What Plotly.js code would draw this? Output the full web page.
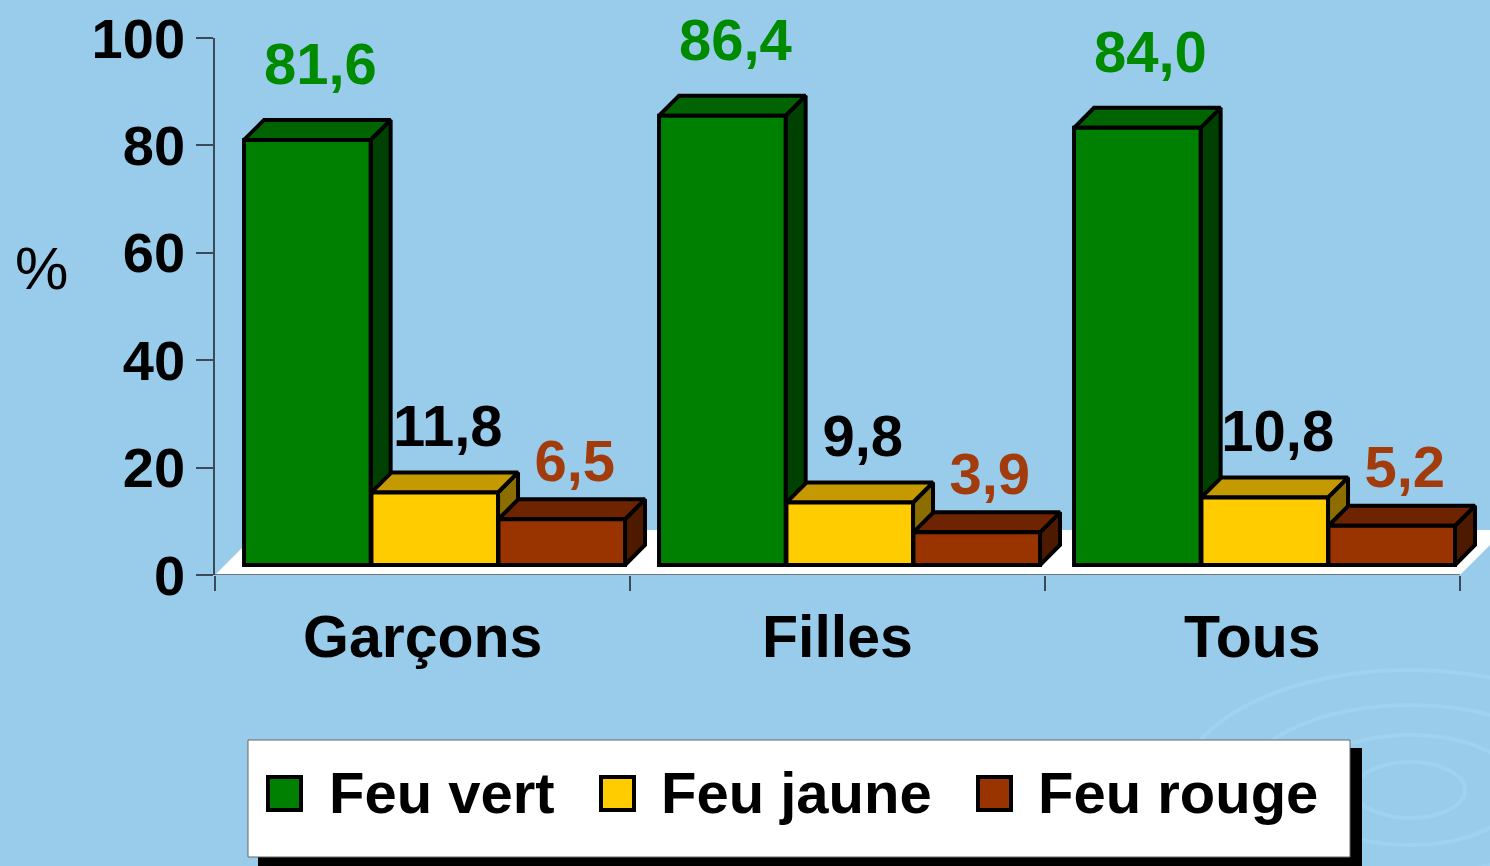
<!DOCTYPE html>
<html>
<head>
<meta charset="utf-8">
<script src="https://cdn.plot.ly/plotly-3.0.1.min.js"></script>
<style>
  html, body { margin: 0; padding: 0; background: #99CCEB; }
  #chart { width: 1490px; height: 866px; }
</style>
</head>
<body>
<div id="chart"></div>
<script>
// ---------------- data ----------------
const categories = ['Garçons', 'Filles', 'Tous'];
const seriesNames = ['Feu vert', 'Feu jaune', 'Feu rouge'];
const feuVert  = [81.6, 86.4, 84.0];
const feuJaune = [11.8, 9.8, 10.8];
const feuRouge = [6.5, 3.9, 5.2];
const yTickValues = [0, 20, 40, 60, 80, 100];
const yAxisTitle = '%';

// ---------------- styles / geometry ----------------
const FONT = '"Liberation Sans", Arial, Helvetica, sans-serif';
const BG = '#99CCEB';
const frontColors = ['#008000', '#FFCC00', '#993300'];
const topColors   = ['#006400', '#C49A00', '#6E2400'];
const sideColors  = ['#004000', '#8C6E00', '#4D1A00'];
const labelColors = ['#008A00', '#000000', '#A33C0C'];
const labelGapPx  = [21, 12, 4];

const W = 1490, H = 866;
const PL = 215, PR = 1490, PT = 38, PB = 575;      // plot area in pixels
const xPxPerUnit = 415;                               // one category = 415 px
const xRange = [0, (PR - PL) / xPxPerUnit];
// perspective scale used by the 3D bars (hidden axis)
const barPxPerUnit = 5.05, barZeroPx = 552;
const barRange = [-(PB - barZeroPx) / barPxPerUnit, (barZeroPx - PT) / barPxPerUnit];
const barBase = -(565 - barZeroPx) / barPxPerUnit;   // bars stand on the floor
const barWidth = 0.305;
const barOffsets = [0.07, 0.377, 0.683];
const depthPx = 20;
const dX = depthPx / xPxPerUnit, dY = depthPx / barPxPerUnit;

const px = x => (x - PL) / (PR - PL);
const py = y => (PB - y) / (PB - PT);

const seriesValues = [feuVert, feuJaune, feuRouge];
const fmt = v => v.toFixed(1).replace('.', ',');

const polyTraces = [];
const barTraces = [];
const labelTraces = [];

seriesValues.forEach((vals, s) => {
  const topX = [], topY = [], sideX = [], sideY = [];
  vals.forEach((v, i) => {
    const x0 = i + barOffsets[s], x1 = x0 + barWidth;
    topX.push(x0, x1, x1 + dX, x0 + dX, x0, null);
    topY.push(v, v, v + dY, v + dY, v, null);
    sideX.push(x1, x1, x1 + dX, x1 + dX, x1, null);
    sideY.push(barBase, v, v + dY, barBase + dY, barBase, null);
  });
  polyTraces.push({
    type: 'scatter', mode: 'lines', x: sideX, y: sideY, xaxis: 'x', yaxis: 'y2',
    fill: 'toself', fillcolor: sideColors[s], line: {color: '#000', width: 4},
    hoverinfo: 'skip', showlegend: false
  });
  polyTraces.push({
    type: 'scatter', mode: 'lines', x: topX, y: topY, xaxis: 'x', yaxis: 'y2',
    fill: 'toself', fillcolor: topColors[s], line: {color: '#000', width: 4},
    hoverinfo: 'skip', showlegend: false
  });
  barTraces.push({
    type: 'bar', name: seriesNames[s],
    x: categories.map((c, i) => i),
    y: vals.map(v => v - barBase),
    base: barBase,
    width: barWidth, offset: barOffsets[s],
    xaxis: 'x', yaxis: 'y3',
    marker: {color: frontColors[s], line: {color: '#000', width: 4}},
    hovertext: vals.map((v, i) => categories[i] + ' – ' + seriesNames[s] + ': ' + fmt(v)),
    hoverinfo: 'text', showlegend: false
  });
  labelTraces.push({
    type: 'scatter', mode: 'text',
    x: vals.map((v, i) => i + barOffsets[s] + barWidth / 2 + dX / 2 + 3 / xPxPerUnit),
    y: vals.map(v => v + dY + labelGapPx[s] / barPxPerUnit),
    text: vals.map(fmt),
    textposition: 'top center',
    textfont: {family: FONT, size: 58, color: labelColors[s], weight: 'bold'},
    xaxis: 'x', yaxis: 'y3', cliponaxis: false,
    hoverinfo: 'skip', showlegend: false
  });
});

// dummy trace so the main (visible) y axis owns a subplot
const anchorTrace = {type: 'scatter', mode: 'markers', x: [null], y: [null], xaxis: 'x', yaxis: 'y',
  hoverinfo: 'skip', showlegend: false};

// ---------------- shapes ----------------
const shapes = [];
// faint swirl in the background
[[230, 120], [170, 85], [110, 55], [55, 28]].forEach(([rx, ry]) => {
  shapes.push({type: 'circle', xref: 'paper', yref: 'paper', layer: 'below',
    x0: px(1410 - rx), x1: px(1410 + rx), y0: py(790 + ry), y1: py(790 - ry),
    line: {color: 'rgba(170,220,250,0.35)', width: 4}, fillcolor: 'rgba(0,0,0,0)'});
});
// white floor
shapes.push({type: 'path', xref: 'paper', yref: 'paper', layer: 'below',
  path: `M${px(215)},${py(575)} L${px(1460)},${py(575)} L${px(1505)},${py(530)} L${px(260)},${py(530)} Z`,
  fillcolor: '#FFFFFF', line: {width: 0}});
// x axis line (category span only)
shapes.push({type: 'line', xref: 'x', yref: 'y', layer: 'below',
  x0: 0, x1: categories.length, y0: 0, y1: 0, line: {color: '#3A4A5A', width: 1.5}});
// legend box with shadow
shapes.push({type: 'rect', xref: 'paper', yref: 'paper', layer: 'above',
  x0: px(258), x1: px(1362), y0: py(748), y1: py(880), fillcolor: '#000', line: {width: 0}});
shapes.push({type: 'rect', xref: 'paper', yref: 'paper', layer: 'above',
  x0: px(248), x1: px(1350), y0: py(740), y1: py(857), fillcolor: '#FFF', line: {color: '#666', width: 1}});
const legendSwatchX = [268, 601, 978];
const legendTextX = [327, 659, 1036];
seriesNames.forEach((n, s) => {
  shapes.push({type: 'rect', xref: 'paper', yref: 'paper', layer: 'above',
    x0: px(legendSwatchX[s]), x1: px(legendSwatchX[s] + 33), y0: py(777), y1: py(810),
    fillcolor: frontColors[s], line: {color: '#000', width: 4}});
});

// ---------------- annotations ----------------
const annotations = [];
seriesNames.forEach((n, s) => {
  annotations.push({xref: 'paper', yref: 'paper', x: px(legendTextX[s]), y: py(792),
    xanchor: 'left', yanchor: 'middle', showarrow: false, text: n,
    font: {family: FONT, size: 58, color: '#000', weight: 'bold'}});
});
categories.forEach((c, i) => {
  annotations.push({xref: 'x', yref: 'paper', x: i + 0.5, y: py(637),
    xanchor: 'center', yanchor: 'middle', showarrow: false, text: c,
    font: {family: FONT, size: 59, color: '#000', weight: 'bold'}});
});
annotations.push({xref: 'paper', yref: 'paper', x: px(41), y: py(268),
  xanchor: 'center', yanchor: 'middle', showarrow: false, text: yAxisTitle,
  font: {family: FONT, size: 60, color: '#000'}});

const layout = {
  width: W, height: H,
  margin: {l: PL, r: W - PR, t: PT, b: H - PB, pad: 0},
  paper_bgcolor: BG, plot_bgcolor: 'rgba(0,0,0,0)',
  barmode: 'overlay',
  showlegend: false,
  font: {family: FONT},
  xaxis: {
    range: xRange, tickvals: [0, 1, 2, 3], ticks: 'outside', ticklen: 15, tickwidth: 1.5,
    tickcolor: '#3A4A5A', showticklabels: false, showline: false, showgrid: false, zeroline: false,
    fixedrange: true
  },
  yaxis: {
    range: [0, 100], tickvals: yTickValues, ticks: 'outside', ticklen: 17, tickwidth: 1.5,
    tickcolor: '#3A4A5A', showline: true, linecolor: '#3A4A5A', linewidth: 1.5,
    showgrid: false, zeroline: false, ticklabelstandoff: 0,
    tickfont: {family: FONT, size: 56, color: '#000', weight: 'bold'}, fixedrange: true
  },
  yaxis2: {range: barRange, overlaying: 'y', visible: false, fixedrange: true},
  yaxis3: {range: barRange, overlaying: 'y', visible: false, fixedrange: true},
  shapes: shapes,
  annotations: annotations
};

Plotly.newPlot('chart', [anchorTrace, ...polyTraces, ...barTraces, ...labelTraces], layout,
  {displayModeBar: false});
</script>
</body>
</html>
